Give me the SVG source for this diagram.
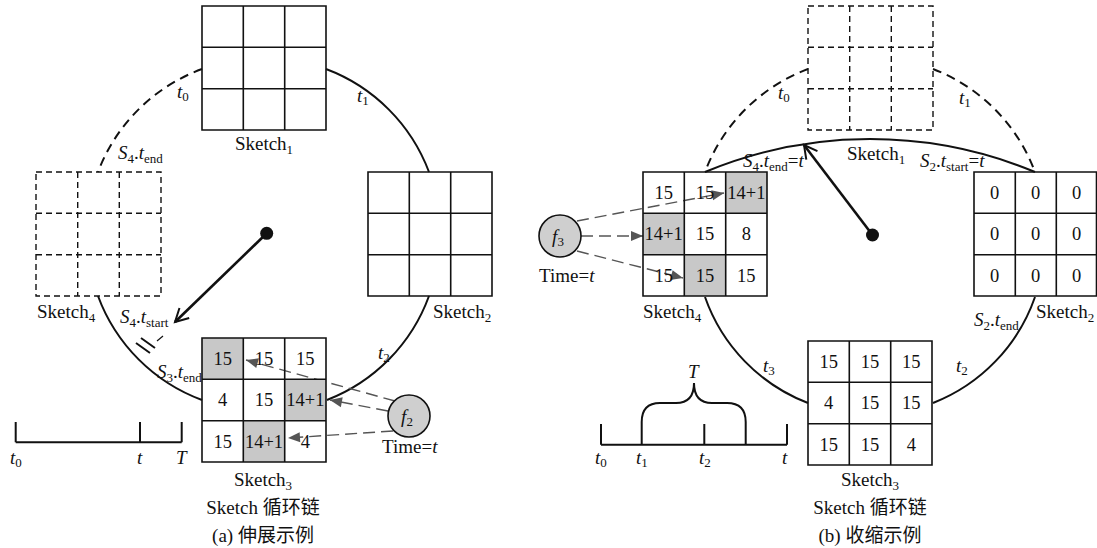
<svg xmlns="http://www.w3.org/2000/svg" width="1097" height="548" viewBox="0 0 1097 548">
<style>
text{font-family:"Liberation Serif","Noto Sans CJK SC",serif;font-size:19px;fill:#111}
.m{text-anchor:middle}
.i{font-style:italic}
.s{font-size:13px}
.c{font-size:18.5px;text-anchor:middle}
.g{fill:none;stroke:#111;stroke-width:1.6}
.gd{fill:none;stroke:#111;stroke-width:1.4;stroke-dasharray:6 4}
.arc{fill:none;stroke:#111;stroke-width:2}
.arcd{fill:none;stroke:#111;stroke-width:2;stroke-dasharray:9 6}
.fa{fill:none;stroke:#555;stroke-width:1.4;stroke-dasharray:12 6}
.ptr{fill:none;stroke:#111;stroke-width:2.6}
.sh{fill:#c8c8c8}
.circ{fill:#cfcfcf;stroke:#111;stroke-width:1.6}
</style>
<defs>
<marker id="gh" markerUnits="userSpaceOnUse" markerWidth="14" markerHeight="12" refX="12" refY="5" orient="auto" overflow="visible"><path d="M0,0 L12,5 L0,10 z" fill="#555" stroke="none"/></marker>
<marker id="vh" markerUnits="userSpaceOnUse" markerWidth="16" markerHeight="16" refX="0" refY="0" orient="auto" overflow="visible"><path d="M-13,-7 L0,0 L-13,7" fill="none" stroke="#111" stroke-width="2"/></marker>
</defs>

<!-- ===== (a) expansion ===== -->
<g id="a-connectors">
<path class="arcd" d="M202,69 A176,176 0 0 0 98,172"/>
<path class="arc" d="M326,69 A176,176 0 0 1 429,172"/>
<path class="arc" d="M429,296 A176,176 0 0 1 327,400"/>
<path class="arc" d="M98,296 A176,176 0 0 0 202,400"/>
<line class="ptr" x1="266.7" y1="233.3" x2="175" y2="322" marker-end="url(#vh)"/>
<circle cx="266.7" cy="233.3" r="6.5" fill="#111"/>
<path d="M136,343 L150,353 M141,338 L155,348" stroke="#111" stroke-width="2" fill="none"/>
<path d="M157,341 L163,336" stroke="#111" stroke-width="1.2"/>
<line class="fa" x1="395" y1="401" x2="246" y2="360" marker-end="url(#gh)"/>
<line class="fa" x1="388" y1="411" x2="330" y2="400" marker-end="url(#gh)"/>
<line class="fa" x1="393" y1="431" x2="288" y2="438" marker-end="url(#gh)"/>
</g>

<g id="a-sketch1">
<path class="g" d="M202,6h124v124h-124z M243.3,6v124 M284.7,6v124 M202,47.3h124 M202,88.7h124"/>
<text x="264" y="150" class="m">Sketch<tspan class="s" dy="4">1</tspan></text>
</g>
<g id="a-sketch2">
<path class="g" d="M368,172h124v124h-124z M409.3,172v124 M450.7,172v124 M368,213.3h124 M368,254.7h124"/>
<text x="433" y="318">Sketch<tspan class="s" dy="4">2</tspan></text>
</g>
<g id="a-sketch4">
<path class="gd" d="M36,172h125v124h-125z M77.7,172v124 M119.3,172v124 M36,213.3h125 M36,254.7h125"/>
<text x="37" y="318">Sketch<tspan class="s" dy="4">4</tspan></text>
</g>
<g id="a-sketch3">
<rect class="sh" x="202" y="338" width="41.3" height="41.3"/>
<rect class="sh" x="284.7" y="379.3" width="41.3" height="41.3"/>
<rect class="sh" x="243.3" y="420.7" width="41.3" height="41.3"/>
<path class="g" d="M202,338h124v124h-124z M243.3,338v124 M284.7,338v124 M202,379.3h124 M202,420.7h124"/>
<text class="c" x="222.7" y="365">15</text><text class="c" x="264" y="365">15</text><text class="c" x="305.3" y="365">15</text>
<text class="c" x="222.7" y="406.3">4</text><text class="c" x="264" y="406.3">15</text><text class="c" x="305.3" y="406.3">14+1</text>
<text class="c" x="222.7" y="447.7">15</text><text class="c" x="264" y="447.7">14+1</text><text class="c" x="305.3" y="447.7">4</text>
<text x="263" y="486" class="m">Sketch<tspan class="s" dy="4">3</tspan></text>
</g>
<g id="a-f2">
<circle class="circ" cx="409" cy="416" r="21"/>
<text x="407" y="423" class="m"><tspan class="i">f</tspan><tspan class="s" dy="3">2</tspan></text>
<text x="382" y="453">Time=<tspan class="i">t</tspan></text>
</g>
<g id="a-labels">
<text x="177" y="98"><tspan class="i">t</tspan><tspan class="s" dy="3">0</tspan></text>
<text x="357" y="102"><tspan class="i">t</tspan><tspan class="s" dy="3">1</tspan></text>
<text x="378" y="359"><tspan class="i">t</tspan><tspan class="s" dy="3">2</tspan></text>
<text x="118" y="159"><tspan class="i">S</tspan><tspan class="s" dy="4">4</tspan><tspan dy="-4">.</tspan><tspan class="i">t</tspan><tspan class="s" dy="4">end</tspan></text>
<text x="120" y="323"><tspan class="i">S</tspan><tspan class="s" dy="4">4</tspan><tspan dy="-4">.</tspan><tspan class="i">t</tspan><tspan class="s" dy="4">start</tspan></text>
<text x="157" y="378"><tspan class="i">S</tspan><tspan class="s" dy="4">3</tspan><tspan dy="-4">.</tspan><tspan class="i">t</tspan><tspan class="s" dy="4">end</tspan></text>
</g>
<g id="a-timeline">
<path d="M15.7,442.3 H181.7 M15.7,422 V442.3 M140,422 V442.3 M181.7,422 V442.3" stroke="#111" stroke-width="2" fill="none"/>
<text x="10" y="464"><tspan class="i">t</tspan><tspan class="s" dy="3">0</tspan></text>
<text x="137" y="464" class="i">t</text>
<text x="176" y="464" class="i">T</text>
</g>
<g id="a-caption">
<text x="263" y="514" class="m">Sketch 循环链</text>
<text x="263" y="542" class="m">(a) 伸展示例</text>
</g>

<!-- ===== (b) shrink ===== -->
<g id="b-connectors">
<path class="arcd" d="M808,69 A176,176 0 0 0 705,172"/>
<path class="arcd" d="M933,69 A176,176 0 0 1 1035,172"/>
<path class="arc" d="M705,172 A430,430 0 0 1 1035,172"/>
<path class="arc" d="M1035,297 A176,176 0 0 1 933,403"/>
<path class="arc" d="M705,297 A176,176 0 0 0 808,403"/>
<line class="ptr" x1="872.5" y1="235" x2="804" y2="145" marker-end="url(#vh)"/>
<circle cx="872.5" cy="235" r="6.5" fill="#111"/>
<line class="fa" x1="577" y1="221" x2="724" y2="193" marker-end="url(#gh)"/>
<line class="fa" x1="581" y1="236" x2="643" y2="236" marker-end="url(#gh)"/>
<line class="fa" x1="577" y1="251" x2="683" y2="278" marker-end="url(#gh)"/>
</g>
<g id="b-sketch1">
<path class="gd" d="M808,6h125v124h-125z M849.7,6v124 M891.3,6v124 M808,47.3h125 M808,88.7h125"/>
<text x="847" y="160">Sketch<tspan class="s" dy="4">1</tspan></text>
</g>
<g id="b-sketch2">
<path class="g" d="M974,172h122.5v124h-122.5z M1015.3,172v124 M1056.3,172v124 M974,213.3h122.5 M974,254.7h122.5"/>
<text class="c" x="994.5" y="199">0</text><text class="c" x="1035.5" y="199">0</text><text class="c" x="1076.5" y="199">0</text>
<text class="c" x="994.5" y="240.3">0</text><text class="c" x="1035.5" y="240.3">0</text><text class="c" x="1076.5" y="240.3">0</text>
<text class="c" x="994.5" y="281.7">0</text><text class="c" x="1035.5" y="281.7">0</text><text class="c" x="1076.5" y="281.7">0</text>
<text x="1036" y="318">Sketch<tspan class="s" dy="4">2</tspan></text>
</g>
<g id="b-sketch4">
<rect class="sh" x="725.7" y="172" width="41.3" height="41.3"/>
<rect class="sh" x="643" y="213.3" width="41.3" height="41.3"/>
<rect class="sh" x="684.3" y="254.7" width="41.3" height="41.3"/>
<path class="g" d="M643,172h124v124h-124z M684.3,172v124 M725.7,172v124 M643,213.3h124 M643,254.7h124"/>
<text class="c" x="663.7" y="199">15</text><text class="c" x="705" y="199">15</text><text class="c" x="746.3" y="199">14+1</text>
<text class="c" x="663.7" y="240.3">14+1</text><text class="c" x="705" y="240.3">15</text><text class="c" x="746.3" y="240.3">8</text>
<text class="c" x="663.7" y="281.7">15</text><text class="c" x="705" y="281.7">15</text><text class="c" x="746.3" y="281.7">15</text>
<text x="643" y="318">Sketch<tspan class="s" dy="4">4</tspan></text>
</g>
<g id="b-sketch3">
<path class="g" d="M808,341h124v124h-124z M849.3,341v124 M890.7,341v124 M808,382.3h124 M808,423.7h124"/>
<text class="c" x="828.7" y="368">15</text><text class="c" x="870" y="368">15</text><text class="c" x="911.3" y="368">15</text>
<text class="c" x="828.7" y="409.3">4</text><text class="c" x="870" y="409.3">15</text><text class="c" x="911.3" y="409.3">15</text>
<text class="c" x="828.7" y="450.7">15</text><text class="c" x="870" y="450.7">15</text><text class="c" x="911.3" y="450.7">4</text>
<text x="870" y="486" class="m">Sketch<tspan class="s" dy="4">3</tspan></text>
</g>
<g id="b-f3">
<circle class="circ" cx="560" cy="236" r="21"/>
<text x="558" y="243" class="m"><tspan class="i">f</tspan><tspan class="s" dy="3">3</tspan></text>
<text x="539" y="282">Time=<tspan class="i">t</tspan></text>
</g>
<g id="b-labels">
<text x="778" y="99"><tspan class="i">t</tspan><tspan class="s" dy="3">0</tspan></text>
<text x="959" y="104"><tspan class="i">t</tspan><tspan class="s" dy="3">1</tspan></text>
<text x="956" y="372"><tspan class="i">t</tspan><tspan class="s" dy="3">2</tspan></text>
<text x="763" y="372"><tspan class="i">t</tspan><tspan class="s" dy="3">3</tspan></text>
<text x="743" y="167"><tspan class="i">S</tspan><tspan class="s" dy="4">4</tspan><tspan dy="-4">.</tspan><tspan class="i">t</tspan><tspan class="s" dy="4">end</tspan><tspan dy="-4">=</tspan><tspan class="i">t</tspan></text>
<text x="920" y="167"><tspan class="i">S</tspan><tspan class="s" dy="4">2</tspan><tspan dy="-4">.</tspan><tspan class="i">t</tspan><tspan class="s" dy="4">start</tspan><tspan dy="-4">=</tspan><tspan class="i">t</tspan></text>
<text x="974" y="326"><tspan class="i">S</tspan><tspan class="s" dy="4">2</tspan><tspan dy="-4">.</tspan><tspan class="i">t</tspan><tspan class="s" dy="4">end</tspan></text>
</g>
<g id="b-timeline">
<path d="M601,444.7 H787 M601,424 V444.7 M704.3,424 V444.7 M787,424 V444.7" stroke="#111" stroke-width="2" fill="none"/>
<path d="M641.7,444.7 V422 Q641.7,403 660,403 H676 Q694,403 694,383 Q694,403 712,403 H727 Q745.7,403 745.7,422 V444.7" stroke="#111" stroke-width="2" fill="none"/>
<text x="688" y="378" class="i">T</text>
<text x="595" y="464"><tspan class="i">t</tspan><tspan class="s" dy="3">0</tspan></text>
<text x="636" y="464"><tspan class="i">t</tspan><tspan class="s" dy="3">1</tspan></text>
<text x="699" y="464"><tspan class="i">t</tspan><tspan class="s" dy="3">2</tspan></text>
<text x="782" y="464" class="i">t</text>
</g>
<g id="b-caption">
<text x="870" y="514" class="m">Sketch 循环链</text>
<text x="870" y="542" class="m">(b) 收缩示例</text>
</g>
</svg>
